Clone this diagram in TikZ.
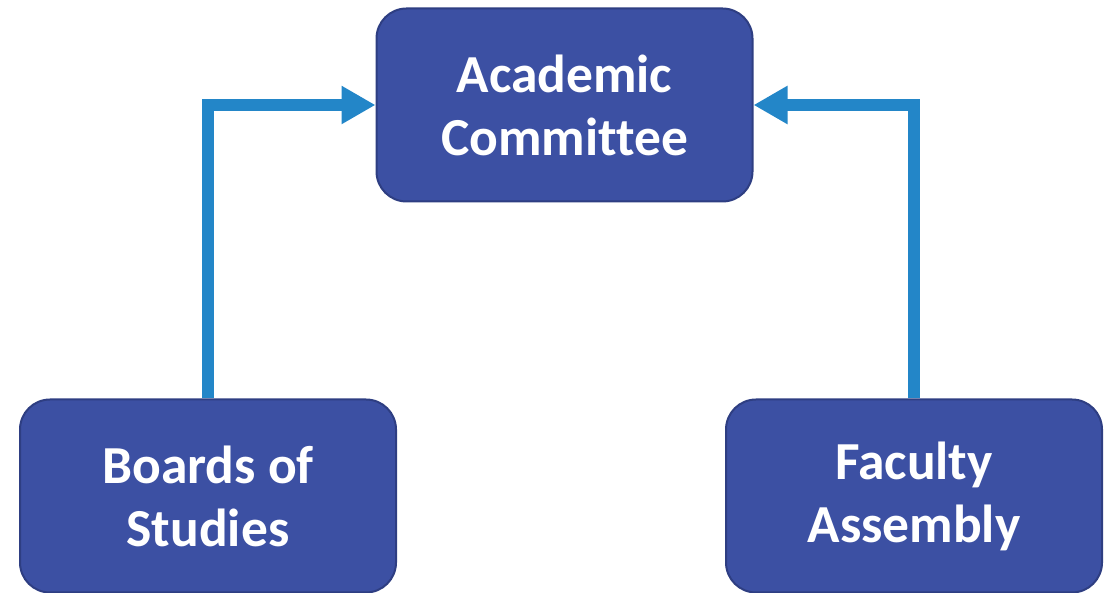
\documentclass[tikz,border=0pt]{standalone}
\usepackage{fontspec}
\setmainfont[Ligatures=NoCommon]{Carlito}
\usetikzlibrary{arrows.meta}
\definecolor{boxblue}{HTML}{3C50A3}
\definecolor{boxedge}{HTML}{2E3E82}
\definecolor{linkblue}{HTML}{2386C8}
\begin{document}
\begin{tikzpicture}[x=1pt, y=1pt, main node/.style={rectangle, rounded corners=30pt, fill=boxblue, draw=boxedge, line width=2pt, minimum width=376pt, minimum height=193pt, align=center, text=white, font=\fontsize{53.5}{63}\selectfont\bfseries}, link/.style={linkblue, line width=12pt, -{Triangle[length=34pt, width=36pt]}}]

			\useasboundingbox (0,0) rectangle (1115,593);

			\node[main node] (ac) at (564.5,488) {Academic\\Committee};
			\node[main node] (bs) at (208,97) {Boards of\\Studies};
			\node[main node] (fa) at (914,97) {Faculty\\Assembly};

			% links up to the committee
			\draw[link] (bs.north) |- (ac.west);
			\draw[link] (fa.north) |- (ac.east);

		\end{tikzpicture}
\end{document}
